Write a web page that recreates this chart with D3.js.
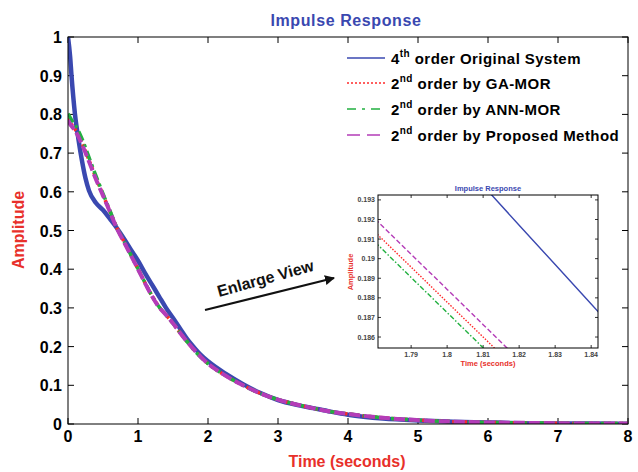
<!DOCTYPE html>
<html><head><meta charset="utf-8">
<script src="https://cdn.jsdelivr.net/npm/d3@7"></script>
<style>body{margin:0;background:#fff}svg{display:block}text{font-family:"Liberation Sans",Arial,sans-serif}</style>
</head><body><svg id="c" width="638" height="472"></svg>
<script>
// ---- data ----
const times = [0,0.03,0.05,0.1,0.15,0.2,0.25,0.3,0.4,0.5,0.6,0.7,0.8,0.9,1.0,1.1,1.2,1.3,1.4,1.5,1.6,1.7,1.8,1.9,2.0,2.25,2.5,2.75,3.0,3.25,3.5,3.75,4.0,4.5,5.0,5.5,6.0,6.5,7.0,7.5,8.0];
const original = [1.0,0.95,0.9,0.8,0.735,0.68,0.635,0.603,0.571,0.553,0.53,0.506,0.479,0.45,0.422,0.39,0.36,0.33,0.3,0.274,0.247,0.22,0.198,0.178,0.162,0.13,0.103,0.08,0.062,0.05,0.041,0.032,0.024,0.014,0.009,0.006,0.004,0.002,0.001,0.001,0.0];
const gaMor = [0.79,0.78,0.774,0.762,0.746,0.727,0.705,0.682,0.636,0.592,0.549,0.506,0.471,0.436,0.401,0.365,0.331,0.303,0.282,0.26,0.236,0.213,0.192,0.173,0.156,0.125,0.1,0.079,0.063,0.051,0.041,0.032,0.026,0.016,0.01,0.006,0.004,0.003,0.002,0.001,0.001];
const annMor = [0.802,0.792,0.786,0.773,0.757,0.737,0.714,0.689,0.641,0.595,0.551,0.507,0.472,0.436,0.401,0.365,0.331,0.303,0.282,0.26,0.236,0.213,0.191,0.172,0.156,0.125,0.1,0.079,0.063,0.051,0.041,0.032,0.026,0.016,0.01,0.006,0.004,0.003,0.002,0.001,0.001];
const proposed = [0.785,0.775,0.77,0.758,0.742,0.722,0.701,0.678,0.632,0.59,0.548,0.505,0.47,0.435,0.4,0.364,0.33,0.302,0.282,0.26,0.236,0.213,0.192,0.173,0.156,0.125,0.1,0.079,0.063,0.051,0.041,0.032,0.026,0.016,0.01,0.006,0.004,0.003,0.002,0.001,0.001];
const xTicks = [0,1,2,3,4,5,6,7,8];
const yTicks = [0,0.1,0.2,0.3,0.4,0.5,0.6,0.7,0.8,0.9,1];

const insetTimes = [1.78,1.79,1.80,1.81,1.82,1.83,1.84,1.845];
const insetOriginal = [0.19976,0.19775,0.19574,0.19373,0.19171,0.18970,0.18769,0.18668];
const insetGa = [0.19135,0.18957,0.18778,0.18600,0.18421,0.18243,0.18064,0.17975];
const insetAnn = [0.19084,0.18904,0.18725,0.18545,0.18366,0.18186,0.18007,0.17917];
const insetProposed = [0.19203,0.19023,0.18843,0.18663,0.18483,0.18303,0.18123,0.18033];
const insetXTicks = [1.79,1.80,1.81,1.82,1.83,1.84];
const insetYTicks = [0.186,0.187,0.188,0.189,0.19,0.191,0.192,0.193];

const seriesNames = ["4th order Original System","2nd order by GA-MOR","2nd order by ANN-MOR","2nd order by Proposed Method"];

// ---- styles ----
const colors = ["#3a48b0","#ff2a2a","#22b040","#b43cb8"];
const mainDash = [null,"3,3","10,4,3,4","11,4"];
const legDash = [null,"2,2","9,6,3,6","13,7"];
const mainW = [4.5,3.5,3.5,4];

const svg = d3.select("#c");
const defs = svg.append("defs");
const L=68,R=628,T=37,B=424;
const x = d3.scaleLinear().domain([0,8]).range([L,R]);
const y = d3.scaleLinear().domain([0,1]).range([B,T]);

defs.append("clipPath").attr("id","mc").append("rect").attr("x",L).attr("y",T).attr("width",R-L).attr("height",B-T);

// ticks inward, all sides
const g = svg.append("g");
xTicks.forEach(v=>{
  g.append("line").attr("x1",x(v)).attr("x2",x(v)).attr("y1",B).attr("y2",B-6).attr("stroke","#000");
  g.append("line").attr("x1",x(v)).attr("x2",x(v)).attr("y1",T).attr("y2",T+6).attr("stroke","#000");
  g.append("text").attr("x",x(v)).attr("y",442).attr("text-anchor","middle").attr("font-size",16).attr("font-weight","bold").text(d3.format("d")(v));
});
yTicks.forEach(v=>{
  g.append("line").attr("x1",L).attr("x2",L+6).attr("y1",y(v)).attr("y2",y(v)).attr("stroke","#000");
  g.append("line").attr("x1",R).attr("x2",R-6).attr("y1",y(v)).attr("y2",y(v)).attr("stroke","#000");
  g.append("text").attr("x",62).attr("y",y(v)+6).attr("text-anchor","end").attr("font-size",16).attr("font-weight","bold").text(v===0||v===1?String(v):d3.format(".1f")(v));
});

const allSeries=[original,gaMor,annMor,proposed];
const line = d3.line().x((d,i)=>x(times[i])).y(d=>y(d)).curve(d3.curveMonotoneX);
const cg = svg.append("g").attr("clip-path","url(#mc)");
allSeries.forEach((s,k)=>{
  cg.append("path").attr("d",line(s)).attr("fill","none").attr("stroke",colors[k]).attr("stroke-width",mainW[k]).attr("stroke-dasharray",mainDash[k]);
});
svg.append("rect").attr("x",L).attr("y",T).attr("width",R-L).attr("height",B-T).attr("fill","none").attr("stroke","#000");

// titles
svg.append("text").attr("x",346).attr("y",26).attr("text-anchor","middle").attr("font-size",16).attr("font-weight","bold").attr("letter-spacing",0.6).attr("fill","#3a48b0").text("Impulse Response");
svg.append("text").attr("x",347).attr("y",467).attr("text-anchor","middle").attr("font-size",16).attr("font-weight","bold").attr("fill","#e8302a").text("Time (seconds)");
svg.append("text").attr("transform","translate(24,230) rotate(-90)").attr("text-anchor","middle").attr("font-size",16).attr("font-weight","bold").attr("fill","#e8302a").text("Amplitude");

// legend
const sup=["th","nd","nd","nd"], pre=["4","2","2","2"];
const rest=[" order Original System"," order by GA-MOR"," order by ANN-MOR"," order by Proposed Method"];
const legY=[58,83,109,135];
seriesNames.forEach((n,k)=>{
  svg.append("line").attr("x1",347).attr("x2",385).attr("y1",legY[k]).attr("y2",legY[k]).attr("stroke",colors[k]).attr("stroke-width",1.3).attr("stroke-dasharray",legDash[k]);
  const t=svg.append("text").attr("x",391).attr("y",legY[k]+6).attr("font-size",15).attr("font-weight","bold").attr("letter-spacing",0.45);
  t.append("tspan").text(pre[k]);
  t.append("tspan").attr("dy",-7).attr("font-size",10).text(sup[k]);
  t.append("tspan").attr("dy",7).text(rest[k]);
});

// enlarge view
svg.append("text").attr("transform","translate(219,297) rotate(-15.5)").attr("font-family","Lato, 'Open Sans', sans-serif").attr("font-size",16).attr("font-weight","600").attr("fill","#111").text("Enlarge View");
defs.append("marker").attr("id","ah").attr("viewBox","0 0 10 10").attr("refX",9).attr("refY",5).attr("markerWidth",5).attr("markerHeight",5).attr("orient","auto").append("path").attr("d","M0,0 L10,5 L0,10 z").attr("fill","#111");
svg.append("line").attr("x1",205).attr("y1",310).attr("x2",334).attr("y2",278).attr("stroke","#111").attr("stroke-width",2).attr("marker-end","url(#ah)");

// inset
const iL=378,iR=598,iT=195,iB=348;
const ix=d3.scaleLinear().domain([1.7808,1.8419]).range([iL,iR]);
const iy=d3.scaleLinear().domain([0.18544,0.19325]).range([iB,iT]);
svg.append("rect").attr("x",iL).attr("y",iT).attr("width",iR-iL).attr("height",iB-iT).attr("fill","#fff");
defs.append("clipPath").attr("id","ic").append("rect").attr("x",iL).attr("y",iT).attr("width",iR-iL).attr("height",iB-iT);
const ig=svg.append("g");
insetXTicks.forEach(v=>{
  ig.append("line").attr("x1",ix(v)).attr("x2",ix(v)).attr("y1",iB).attr("y2",iB-3).attr("stroke","#000").attr("stroke-width",0.8);
  ig.append("line").attr("x1",ix(v)).attr("x2",ix(v)).attr("y1",iT).attr("y2",iT+3).attr("stroke","#000").attr("stroke-width",0.8);
  ig.append("text").attr("x",ix(v)).attr("y",357).attr("text-anchor","middle").attr("font-size",7).attr("font-weight","bold").attr("fill","#444").text(String(+v.toFixed(2)));
});
insetYTicks.forEach(v=>{
  ig.append("line").attr("x1",iL).attr("x2",iL+3).attr("y1",iy(v)).attr("y2",iy(v)).attr("stroke","#000").attr("stroke-width",0.8);
  ig.append("line").attr("x1",iR).attr("x2",iR-3).attr("y1",iy(v)).attr("y2",iy(v)).attr("stroke","#000").attr("stroke-width",0.8);
  ig.append("text").attr("x",375).attr("y",iy(v)+2.5).attr("text-anchor","end").attr("font-size",7).attr("font-weight","bold").attr("fill","#444").text(String(+v.toFixed(3)));
});
const insetSeries=[insetOriginal,insetGa,insetAnn,insetProposed];
const iline=d3.line().x((d,i)=>ix(insetTimes[i])).y(d=>iy(d));
const icg=svg.append("g").attr("clip-path","url(#ic)");
const inDash=[null,"1.5,1.5","5,2,1.5,2","5,2.5"];
insetSeries.forEach((s,k)=>{
  icg.append("path").attr("d",iline(s)).attr("fill","none").attr("stroke",colors[k]).attr("stroke-width",1.4).attr("stroke-dasharray",inDash[k]);
});
svg.append("rect").attr("x",iL).attr("y",iT).attr("width",iR-iL).attr("height",iB-iT).attr("fill","none").attr("stroke","#000").attr("stroke-width",1);
svg.append("text").attr("x",488).attr("y",191).attr("text-anchor","middle").attr("font-size",7.5).attr("font-weight","bold").attr("fill","#3a48b0").text("Impulse Response");
svg.append("text").attr("x",488).attr("y",366).attr("text-anchor","middle").attr("font-size",7.5).attr("font-weight","bold").attr("fill","#e8302a").text("Time (seconds)");
svg.append("text").attr("transform","translate(353,272) rotate(-90)").attr("text-anchor","middle").attr("font-size",7.5).attr("font-weight","bold").attr("fill","#e8302a").text("Amplitude");
</script></body></html>
